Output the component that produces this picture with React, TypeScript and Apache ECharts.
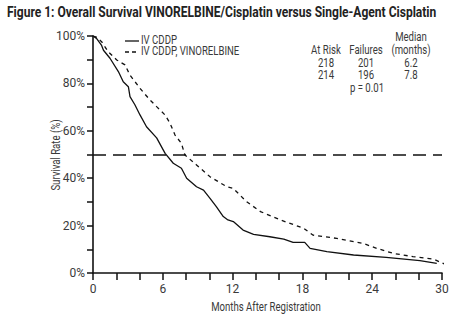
import React, { useEffect, useRef } from "react";
import * as echarts from "echarts";

const titleText = "Figure 1: Overall Survival VINORELBINE/Cisplatin versus Single-Agent Cisplatin";
const seriesNames = ["IV CDDP", "IV CDDP, VINORELBINE"];
const xAxisName = "Months After Registration";
const yAxisName = "Survival Rate (%)";

const cddpMonths = [0, 0.3, 0.74, 0.9, 1.46, 2.18, 2.6, 3.04, 3.18, 3.6, 4.04, 4.6, 5.47, 6.2, 6.9, 7.6, 8.05, 8.9, 9.5, 10.06, 10.6, 11.2, 11.6, 12.06, 12.9, 13.8, 15.2, 16.4, 17.2, 18.2, 18.66, 20.1, 22.4, 25.2, 28.1, 29.55];
const cddpSurvival = [100, 99, 96, 94, 90.6, 85, 80.7, 78.6, 74.4, 71, 66.7, 61.7, 57, 50.5, 46.3, 44.2, 40, 36.4, 35, 31.5, 28, 23.8, 22.4, 21.7, 18.1, 16.3, 15.3, 14.3, 12.9, 12.9, 10.4, 9, 7.6, 6.6, 5.2, 4.1];

const vinoMonths = [0, 0.3, 0.74, 1.3, 2.04, 2.75, 3.18, 4.04, 4.9, 5.47, 6.19, 6.62, 7.05, 7.6, 7.9, 8.9, 10.06, 11.5, 12.06, 13.2, 14.4, 16.1, 18.1, 18.9, 20.95, 23.2, 24.4, 25.8, 27.5, 29.3, 30.7];
const vinoSurvival = [100, 99.5, 97.6, 93.4, 89.9, 87.8, 83.5, 77.9, 73, 70.2, 66.7, 63.2, 58.2, 54.7, 49.8, 45.6, 40.6, 36.4, 35.7, 30.1, 25.9, 22.4, 18.9, 16, 14.6, 12.5, 10.4, 8.3, 6.9, 5.8, 2.7];

const medianLine = 50;

const tableHeaders = ["At Risk", "Failures", "(months)"];
const atRisk = ["218", "214"];
const failures = ["201", "196"];
const medians = ["6.2", "7.8"];
const pValue = "p = 0.01";

const FONT = "Roboto, 'Liberation Sans', sans-serif";
const TXT = "#3a3a3a";
const NARROW = 0.8;

function measure(text: string, font: string): number {
  const c = document.createElement("canvas").getContext("2d");
  if (!c) return text.length * 7;
  c.font = font;
  return c.measureText(text).width;
}

export default function App() {
  const ref = useRef<HTMLDivElement>(null);
  useEffect(() => {
    if (!ref.current) return;
    const chart = echarts.init(ref.current, null, { renderer: "svg" });
    const zip = (xs: number[], ys: number[]) => xs.map((x, i) => [x, ys[i]]);
    const txt = (text: string, x: number, y: number, align: string = "center", extra: any = {}) => ({
      type: "text",
      x,
      y,
      scaleX: NARROW,
      style: { text, fill: TXT, font: `12px ${FONT}`, textAlign: align, textVerticalAlign: "middle", ...extra },
    });
    const titleFont = `bold 14px ${FONT}`;
    const titleScale = 430 / measure(titleText, titleFont);
    const colX = [326, 366, 411];
    chart.setOption({
      animation: false,
      backgroundColor: "#fff",
      textStyle: { fontFamily: FONT },
      grid: { left: 93, right: 21, top: 36, bottom: 49 },
      xAxis: {
        type: "value",
        min: 0,
        max: 30,
        interval: 2,
        axisLine: { lineStyle: { color: "#111", width: 1.6 } },
        axisTick: { inside: false, length: 7, lineStyle: { color: "#111", width: 1.5 } },
        axisLabel: {
          color: TXT,
          fontSize: 12,
          fontFamily: FONT,
          margin: 10,
          formatter: (v: number) => (v % 6 === 0 ? String(v) : ""),
        },
        splitLine: { show: false },
      },
      yAxis: {
        type: "value",
        min: 0,
        max: 100,
        interval: 10,
        axisLine: { show: true, lineStyle: { color: "#111", width: 1.6 } },
        axisTick: { show: true, length: 6, lineStyle: { color: "#111", width: 1.5 } },
        axisLabel: {
          color: TXT,
          fontSize: 12,
          fontFamily: FONT,
          margin: 8,
          formatter: (v: number) => (v % 20 === 0 ? v + "%" : ""),
        },
        splitLine: { show: false },
      },
      series: [
        {
          name: seriesNames[0],
          type: "line",
          data: zip(cddpMonths, cddpSurvival),
          showSymbol: false,
          lineStyle: { color: "#111", width: 1.3 },
          markLine: {
            silent: true,
            symbol: "none",
            label: { show: false },
            lineStyle: { color: "#111", width: 1.5, type: [13, 7] },
            data: [{ yAxis: medianLine }],
          },
        },
        {
          name: seriesNames[1],
          type: "line",
          data: zip(vinoMonths, vinoSurvival),
          showSymbol: false,
          clip: false,
          lineStyle: { color: "#111", width: 1.3, type: [4, 4] },
        },
      ],
      graphic: [
        {
          type: "text",
          x: 7,
          y: 12,
          scaleX: titleScale,
          style: { text: titleText, fill: "#222", font: titleFont, textVerticalAlign: "middle" },
        },
        { type: "line", shape: { x1: 125, y1: 41, x2: 139, y2: 41 }, style: { stroke: "#111", lineWidth: 1.3 } },
        { type: "line", shape: { x1: 125, y1: 52, x2: 139, y2: 52 }, style: { stroke: "#111", lineWidth: 1.3, lineDash: [4, 3] } },
        txt(seriesNames[0], 141, 40, "left"),
        txt(seriesNames[1], 141, 51, "left"),
        txt("Median", 411, 37),
        txt(tableHeaders[0], colX[0], 50),
        txt(tableHeaders[1], colX[1], 50),
        txt(tableHeaders[2], colX[2], 50),
        txt(atRisk[0], colX[0], 63),
        txt(failures[0], colX[1], 63),
        txt(medians[0], colX[2], 63),
        txt(atRisk[1], colX[0], 75),
        txt(failures[1], colX[1], 75),
        txt(medians[1], colX[2], 75),
        txt(pValue, 367, 88),
        txt(xAxisName, 266, 307),
        {
          type: "text",
          x: 56,
          y: 155,
          rotation: Math.PI / 2,
          scaleX: NARROW,
          style: { text: yAxisName, fill: TXT, font: `12px ${FONT}`, textAlign: "center", textVerticalAlign: "middle" },
        },
      ],
    });
    return () => chart.dispose();
  }, []);
  return <div ref={ref} style={{ width: 463, height: 322, position: "absolute", left: 0, top: 0 }} />;
}
